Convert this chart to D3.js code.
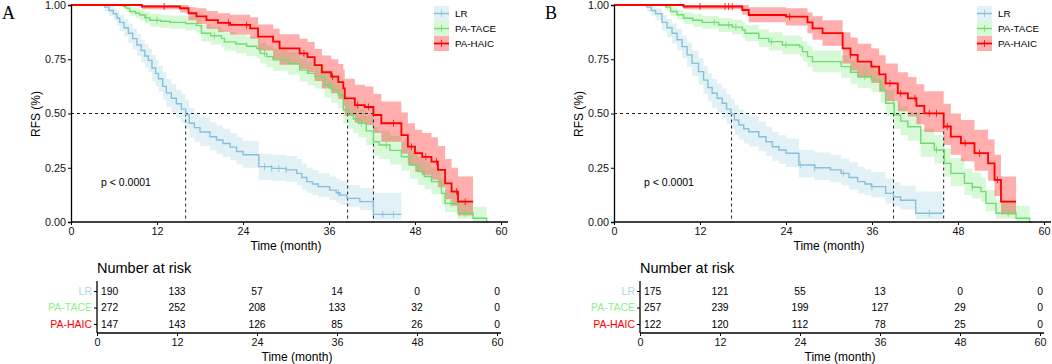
<!DOCTYPE html>
<html>
<head>
<meta charset="utf-8">
<script src="https://d3js.org/d3.v7.min.js"></script>
<style>
  body { margin: 0; background: #fff; }
  text { font-family: "Liberation Sans", Arial, sans-serif; }
</style>
</head>
<body>
<script>
// ---------- data: [time, surv, lower, upper] steps ----------
const groups = ["LR", "PA-TACE", "PA-HAIC"];

const aLR = [[0,1,1,1],[4.7,0.99,0.97,1],[5.3,0.975,0.95,0.995],[5.9,0.96,0.93,0.985],[6.4,0.94,0.905,0.97],
  [6.8,0.92,0.88,0.955],[7.4,0.895,0.855,0.935],[8.0,0.87,0.825,0.915],[8.6,0.845,0.795,0.89],[9.2,0.816,0.765,0.865],
  [9.8,0.79,0.735,0.84],[10.3,0.765,0.71,0.82],[10.8,0.745,0.69,0.8],[11.3,0.71,0.65,0.77],[11.8,0.685,0.625,0.745],
  [12.2,0.66,0.6,0.72],[12.8,0.625,0.565,0.69],[13.3,0.595,0.53,0.66],[14.0,0.57,0.505,0.635],[14.7,0.545,0.48,0.61],
  [15.4,0.52,0.455,0.59],[16.0,0.495,0.43,0.565],[16.5,0.455,0.39,0.525],[17.2,0.435,0.37,0.505],[18.0,0.415,0.35,0.485],
  [19.4,0.393,0.33,0.46],[20.3,0.378,0.315,0.445],[21.2,0.362,0.3,0.43],[22.2,0.345,0.285,0.41],[23.1,0.325,0.265,0.39],
  [24.0,0.31,0.25,0.375],[26.2,0.255,0.195,0.315],[28.0,0.247,0.19,0.31],[30.0,0.24,0.185,0.305],[31.5,0.224,0.17,0.29],
  [32.2,0.205,0.15,0.27],[32.9,0.186,0.135,0.25],[33.7,0.175,0.125,0.24],[34.5,0.163,0.115,0.225],[36.1,0.147,0.1,0.21],
  [37.0,0.135,0.09,0.2],[37.5,0.124,0.08,0.19],[38.5,0.109,0.07,0.17],[40.3,0.094,0.055,0.155],[42.2,0.035,0.01,0.135],
  [46.1,0.035,0.01,0.135]];
const aTACE = [[0,1,1,1],[7.3,0.993,0.985,1],[7.7,0.985,0.97,0.998],[8.2,0.97,0.95,0.99],[9.0,0.962,0.94,0.985],
  [9.6,0.954,0.93,0.978],[10.3,0.942,0.915,0.97],[11.0,0.93,0.9,0.96],[12.5,0.925,0.895,0.955],[13.8,0.92,0.89,0.952],
  [16.0,0.914,0.882,0.948],[17.5,0.905,0.872,0.94],[18.2,0.87,0.832,0.91],[19.5,0.858,0.818,0.9],[21.0,0.846,0.805,0.888],
  [21.4,0.83,0.79,0.875],[23.0,0.82,0.778,0.865],[24.5,0.81,0.765,0.855],[25.9,0.8,0.755,0.847],[26.4,0.777,0.73,0.825],
  [27.3,0.762,0.713,0.812],[28.2,0.747,0.697,0.8],[30.3,0.73,0.678,0.783],[31.9,0.7,0.647,0.755],[33.0,0.685,0.63,0.74],
  [34.0,0.67,0.615,0.727],[35.4,0.631,0.573,0.69],[36.3,0.61,0.55,0.67],[37.3,0.585,0.524,0.647],[38.0,0.516,0.453,0.58],
  [38.7,0.493,0.43,0.558],[39.4,0.475,0.41,0.54],[40.1,0.455,0.39,0.52],[41.2,0.42,0.355,0.487],[42.2,0.37,0.305,0.437],
  [43.0,0.355,0.29,0.422],[44.5,0.33,0.265,0.398],[46.1,0.301,0.237,0.37],[47.3,0.263,0.2,0.332],[48.4,0.232,0.17,0.3],
  [49.3,0.21,0.15,0.278],[50.3,0.186,0.128,0.252],[51.7,0.132,0.08,0.2],[52.2,0.086,0.045,0.15],[54.0,0.04,0.015,0.1],
  [56.1,0.017,0.003,0.07],[58.0,0,0,0],[58.3,0,0,0]];
const aHAIC = [[0,1,1,1],[9.9,0.993,0.98,1],[15.2,0.985,0.965,1],[16.4,0.962,0.93,0.99],[17.5,0.948,0.912,0.985],
  [18.9,0.93,0.89,0.972],[20.5,0.918,0.876,0.962],[22.2,0.908,0.864,0.955],[25.0,0.892,0.845,0.943],[26.1,0.854,0.79,0.91],
  [28.2,0.831,0.75,0.89],[29.1,0.8,0.725,0.865],[31.9,0.777,0.705,0.845],[33.0,0.76,0.69,0.83],[34.0,0.723,0.65,0.797],
  [35.0,0.69,0.615,0.767],[36.3,0.67,0.593,0.75],[37.3,0.645,0.567,0.728],[38.0,0.616,0.537,0.702],[38.2,0.57,0.49,0.66],
  [39.6,0.539,0.457,0.632],[41.0,0.53,0.447,0.625],[42.2,0.493,0.41,0.59],[43.3,0.455,0.37,0.555],[46.1,0.4,0.315,0.505],
  [47.0,0.347,0.262,0.455],[48.0,0.317,0.232,0.425],[49.0,0.3,0.215,0.41],[50.3,0.278,0.195,0.39],[51.2,0.24,0.16,0.35],
  [52.2,0.178,0.105,0.29],[53.1,0.14,0.075,0.25],[54.0,0.094,0.03,0.21],[56.1,0.094,0.03,0.21]];

const bLR = [[0,1,1,1],[4.6,0.99,0.97,1],[5.2,0.975,0.95,0.995],[5.8,0.96,0.93,0.985],[6.7,0.92,0.88,0.955],
  [7.4,0.895,0.853,0.935],[8.1,0.87,0.823,0.915],[8.8,0.84,0.79,0.89],[9.5,0.808,0.755,0.86],[10.2,0.77,0.715,0.828],
  [10.9,0.731,0.673,0.79],[11.8,0.693,0.632,0.755],[12.5,0.654,0.59,0.718],[13.1,0.62,0.555,0.686],[13.7,0.593,0.527,0.66],
  [14.4,0.57,0.503,0.638],[15.1,0.547,0.48,0.615],[15.7,0.52,0.453,0.59],[16.3,0.498,0.43,0.568],[16.8,0.47,0.402,0.54],
  [17.4,0.447,0.38,0.518],[18.1,0.43,0.362,0.5],[18.8,0.416,0.348,0.487],[20.2,0.393,0.326,0.463],[21.2,0.37,0.304,0.44],
  [22.1,0.347,0.282,0.416],[23.0,0.332,0.268,0.4],[24.0,0.317,0.253,0.385],[25.8,0.263,0.205,0.333],[28.0,0.25,0.193,0.32],
  [30.2,0.24,0.183,0.31],[31.7,0.224,0.168,0.293],[32.8,0.205,0.15,0.275],[34.0,0.186,0.133,0.255],[35.0,0.175,0.123,0.243],
  [35.9,0.163,0.113,0.23],[37.9,0.132,0.085,0.2],[39.0,0.115,0.072,0.183],[40.0,0.1,0.058,0.167],[42.1,0.04,0.012,0.14],
  [45.9,0.04,0.012,0.14]];
const bTACE = [[0,1,1,1],[7.2,0.99,0.978,1],[7.9,0.97,0.95,0.99],[8.8,0.955,0.932,0.978],[9.7,0.939,0.912,0.966],
  [11.0,0.93,0.9,0.958],[12.3,0.92,0.89,0.95],[14.6,0.908,0.876,0.94],[16.5,0.898,0.865,0.932],[17.9,0.885,0.85,0.92],
  [18.3,0.87,0.833,0.908],[20.2,0.846,0.806,0.888],[21.6,0.831,0.79,0.874],[23.5,0.816,0.773,0.86],[25.9,0.807,0.763,0.852],
  [26.3,0.785,0.739,0.832],[27.0,0.762,0.715,0.812],[27.7,0.739,0.69,0.79],[31.7,0.716,0.665,0.769],[33.0,0.69,0.637,0.745],
  [34.0,0.67,0.616,0.727],[35.9,0.654,0.598,0.712],[37.2,0.608,0.55,0.668],[37.9,0.547,0.487,0.61],[39.1,0.493,0.43,0.558],
  [40.0,0.465,0.401,0.532],[41.0,0.439,0.375,0.506],[42.8,0.363,0.3,0.43],[44.7,0.332,0.27,0.4],[46.1,0.27,0.208,0.34],
  [47.0,0.224,0.165,0.294],[48.9,0.178,0.125,0.247],[50.0,0.16,0.11,0.228],[51.2,0.14,0.092,0.205],[51.9,0.086,0.05,0.148],
  [53.3,0.04,0.015,0.1],[56.1,0.017,0.003,0.075],[58.0,0,0,0],[58.3,0,0,0]];
const bHAIC = [[0,1,1,1],[9.7,0.993,0.98,1],[17.9,0.977,0.955,1],[18.8,0.954,0.92,0.99],[24.0,0.946,0.905,0.985],
  [27.0,0.92,0.87,0.965],[27.7,0.892,0.84,0.948],[29.1,0.87,0.812,0.93],[31.9,0.8,0.73,0.875],[33.0,0.77,0.698,0.85],
  [34.0,0.739,0.665,0.822],[35.9,0.716,0.64,0.8],[37.0,0.68,0.6,0.768],[37.9,0.639,0.558,0.73],[39.6,0.593,0.51,0.69],
  [41.0,0.57,0.486,0.668],[42.2,0.535,0.45,0.635],[43.3,0.501,0.415,0.603],[46.0,0.44,0.355,0.545],[47.0,0.393,0.31,0.5],
  [48.4,0.363,0.28,0.47],[50.3,0.317,0.236,0.425],[52.2,0.27,0.19,0.38],[53.1,0.194,0.12,0.31],[54.0,0.094,0.035,0.21],
  [56.1,0.094,0.035,0.21]];

// censoring times
const aLRCens = [27, 28, 29, 30, 37.3, 43.5, 45];
const aTACECens = [10.5, 12, 20, 27, 36, 40.5, 44, 49, 53, 55];
const aHAICCens = [13, 22, 24.5, 32.5, 36.5, 40, 41.5, 45, 47.5, 49.5, 51, 53.8, 55];
const bLRCens = [26, 28, 32, 36, 44];
const bTACECens = [14, 16, 17, 22, 24, 35, 39, 45, 50, 55];
const bHAICCens = [12, 15.5, 16, 16.5, 24.5, 33, 38.5, 40, 42, 44, 45, 46.5, 49, 51, 53.5];

// median survival times
const aMedians = [16.0, 38.6, 42.2];
const bMedians = [16.4, 39.0, 46.0];

// number at risk
const riskTimes = [0, 12, 24, 36, 48, 60];
const aRisk = [[190, 133, 57, 14, 0, 0], [272, 252, 208, 133, 32, 0], [147, 143, 126, 85, 26, 0]];
const bRisk = [[175, 121, 55, 13, 0, 0], [257, 239, 199, 127, 29, 0], [122, 120, 112, 78, 25, 0]];

const xTicks = [0, 12, 24, 36, 48, 60];
const yTicks = [0, 0.25, 0.5, 0.75, 1];

const lineColors = ["#88c0da", "#70dc70", "#ff0000"];
const fillColors = ["#add8e6", "#90ee90", "#ff0000"];
const fillOpacity = [0.35, 0.35, 0.32];
const labelColors = ["#add8e6", "#90ee90", "#ff0000"];

// ---------- drawing ----------
const svg = d3.select("body").append("svg")
  .attr("width", 1052).attr("height", 364)
  .style("background", "#fff");

function stepAt(curve, t) {
  let s = curve[0][1];
  for (const d of curve) if (d[0] <= t) s = d[1];
  return s;
}

function drawPanel(ox, letter, curves, cens, medians, risk) {
  const g = svg.append("g").attr("transform", `translate(${ox},0)`);
  const x = d3.scaleLinear().domain([0, 60]).range([71, 501]);
  const y = d3.scaleLinear().domain([0, 1]).range([222, 5]);

  g.append("text").attr("x", 2).attr("y", 19).text(letter)
    .style("font-family", "'Liberation Serif', 'Times New Roman', serif").style("font-size", "18px");

  // ribbons
  curves.forEach((c, i) => {
    g.append("path").datum(c)
      .attr("fill", fillColors[i]).attr("fill-opacity", fillOpacity[i])
      .attr("d", d3.area().curve(d3.curveStepAfter)
        .x(d => x(d[0])).y0(d => y(d[2])).y1(d => y(d[3])));
  });

  // median lines
  const mx = d3.max(medians);
  g.append("line").attr("x1", x(0)).attr("x2", x(mx)).attr("y1", y(0.5)).attr("y2", y(0.5))
    .attr("stroke", "#222").attr("stroke-width", 1).attr("stroke-dasharray", "3,3");
  medians.forEach(m => {
    g.append("line").attr("x1", x(m)).attr("x2", x(m)).attr("y1", y(0.5)).attr("y2", y(0))
      .attr("stroke", "#222").attr("stroke-width", 1).attr("stroke-dasharray", "3,3");
  });

  // curves
  curves.forEach((c, i) => {
    g.append("path").datum(c)
      .attr("fill", "none").attr("stroke", lineColors[i]).attr("stroke-width", i === 2 ? 1.8 : 1.4)
      .attr("d", d3.line().curve(d3.curveStepAfter).x(d => x(d[0])).y(d => y(d[1])));
    g.selectAll(null).data(cens[i]).enter().append("line")
      .attr("x1", d => x(d)).attr("x2", d => x(d))
      .attr("y1", d => y(stepAt(c, d)) - 3.5).attr("y2", d => y(stepAt(c, d)) + 3.5)
      .attr("stroke", lineColors[i]).attr("stroke-width", 0.8);
  });

  // axes
  const xa = g.append("g").attr("transform", `translate(0,${y(0)})`)
    .call(d3.axisBottom(x).tickValues(xTicks).tickSize(3).tickPadding(2));
  xa.select(".domain").attr("d", `M71,0H508`);
  const ya = g.append("g").attr("transform", `translate(${x(0)},0)`)
    .call(d3.axisLeft(y).tickValues(yTicks).tickFormat(d3.format(".2f")).tickSize(3).tickPadding(2));
  [xa, ya].forEach(a => {
    a.select(".domain").attr("stroke", "#000").attr("stroke-width", 1.3);
    a.selectAll(".tick line").attr("stroke", "#000");
    a.selectAll(".tick text").attr("fill", "#111").style("font-size", "10.8px")
      .style("font-family", "'Liberation Sans', Arial, sans-serif");
  });

  g.append("text").attr("x", 286).attr("y", 250).attr("text-anchor", "middle")
    .style("font-size", "12px").text("Time (month)");
  g.append("text").attr("transform", `translate(40,114) rotate(-90)`).attr("text-anchor", "middle")
    .style("font-size", "12px").text("RFS (%)");
  g.append("text").attr("x", 101).attr("y", 186).style("font-size", "10.5px").text("p < 0.0001");

  // legend
  groups.forEach((name, i) => {
    const ly = 6 + i * 15;
    g.append("rect").attr("x", 434).attr("y", ly).attr("width", 15).attr("height", 15)
      .attr("fill", fillColors[i]).attr("fill-opacity", fillOpacity[i]);
    g.append("line").attr("x1", 434).attr("x2", 449).attr("y1", ly + 7.5).attr("y2", ly + 7.5)
      .attr("stroke", lineColors[i]).attr("stroke-width", i === 2 ? 1.8 : 1.4);
    g.append("line").attr("x1", 441.5).attr("x2", 441.5).attr("y1", ly + 4).attr("y2", ly + 11)
      .attr("stroke", lineColors[i]).attr("stroke-width", 0.8);
    g.append("text").attr("x", 455).attr("y", ly + 11).style("font-size", "9.8px").text(name);
  });

  // risk table
  const tx = d3.scaleLinear().domain([0, 60]).range([97, 497]);
  const ty = d3.scalePoint().domain(groups).range([291, 324]);
  g.append("text").attr("x", 97).attr("y", 273).style("font-size", "14.5px").text("Number at risk");
  risk.forEach((row, i) => {
    g.selectAll(null).data(row).enter().append("text")
      .attr("x", (d, j) => j === 0 ? tx(riskTimes[j]) + 4 : tx(riskTimes[j]))
      .attr("y", ty(groups[i]) + 3.5)
      .attr("text-anchor", (d, j) => j === 0 ? "start" : "middle")
      .style("font-size", "10.3px").text(d => d);
  });
  const ra = g.append("g").attr("transform", `translate(97,0)`)
    .call(d3.axisLeft(ty).tickSize(3).tickPadding(2));
  ra.select(".domain").attr("d", "M0,281V333").attr("stroke", "#000").attr("stroke-width", 1.3);
  ra.selectAll(".tick line").attr("stroke", "#000");
  ra.selectAll(".tick text").style("font-size", "10.5px")
    .style("font-family", "'Liberation Sans', Arial, sans-serif")
    .attr("fill", (d, i) => labelColors[i]);
  const rx = g.append("g").attr("transform", `translate(0,333)`)
    .call(d3.axisBottom(tx).tickValues(riskTimes).tickSize(3).tickPadding(2));
  rx.select(".domain").attr("d", "M97,0H501").attr("stroke", "#000").attr("stroke-width", 1.3);
  rx.selectAll(".tick line").attr("stroke", "#000");
  rx.selectAll(".tick text").attr("fill", "#111").style("font-size", "10.8px")
    .style("font-family", "'Liberation Sans', Arial, sans-serif");
  g.append("text").attr("x", 297).attr("y", 361).attr("text-anchor", "middle")
    .style("font-size", "12px").text("Time (month)");
}

drawPanel(0, "A", [aLR, aTACE, aHAIC], [aLRCens, aTACECens, aHAICCens], aMedians, aRisk);
drawPanel(543, "B", [bLR, bTACE, bHAIC], [bLRCens, bTACECens, bHAICCens], bMedians, bRisk);
</script>
</body>
</html>
